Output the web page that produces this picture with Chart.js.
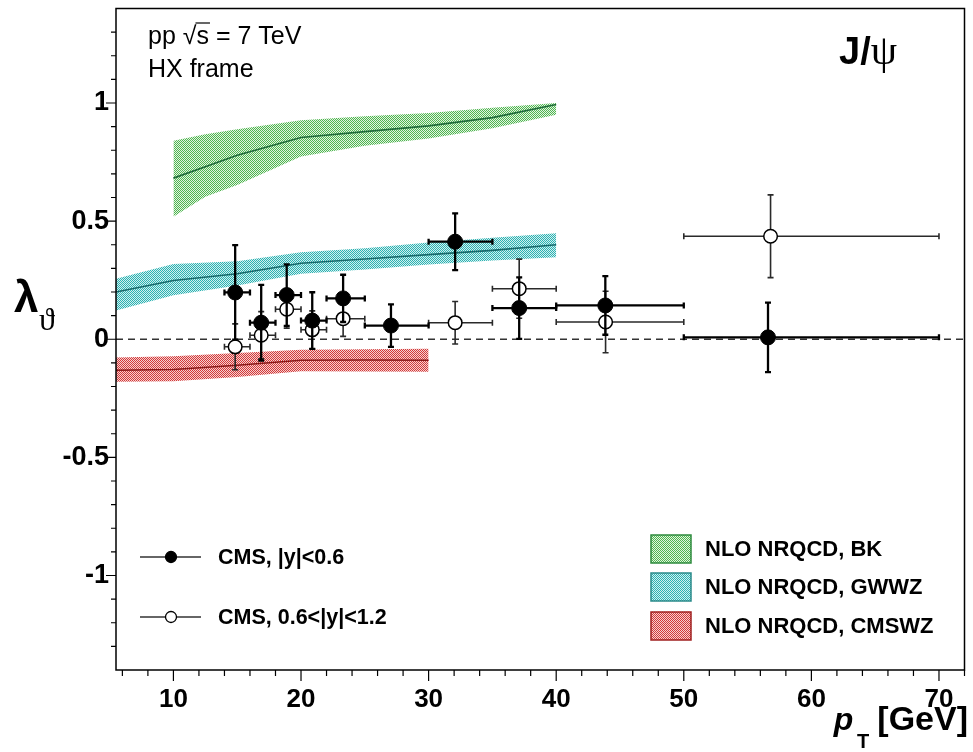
<!DOCTYPE html>
<html>
<head>
<meta charset="utf-8">
<script src="https://cdn.jsdelivr.net/npm/chart.js@4"></script>
<style>
  html, body { margin: 0; padding: 0; background: #fff; }
  #c { display: block; }
</style>
</head>
<body>
<canvas id="c" width="973" height="752"></canvas>
<script>
// ---------------- data ----------------
// CMS |y|<0.6 (filled)
const filledX    = [14.84, 16.88, 18.88, 20.88, 23.3, 27.05, 32.08, 37.1, 43.85, 56.6];
const filledY    = [0.198, 0.070, 0.187, 0.079, 0.173, 0.058, 0.413, 0.132, 0.143, 0.008];
const filledXLo  = [14, 16, 18, 20, 22, 25, 30, 35, 40, 50];
const filledXHi  = [16, 18, 20, 22, 25, 30, 35, 40, 50, 70];
const filledYErr = [0.20, 0.16, 0.13, 0.12, 0.10, 0.09, 0.12, 0.13, 0.124, 0.147];
// CMS 0.6<|y|<1.2 (open)
const openX    = [14.84, 16.88, 18.88, 20.88, 23.3, 32.08, 37.1, 43.87, 56.8];
const openY    = [-0.032, 0.017, 0.127, 0.040, 0.087, 0.070, 0.214, 0.073, 0.436];
const openXLo  = [14, 16, 18, 20, 22, 30, 35, 40, 50];
const openXHi  = [16, 18, 20, 22, 25, 35, 40, 50, 70];
const openYErr = [0.097, 0.10, 0.08, 0.08, 0.075, 0.09, 0.125, 0.13, 0.175];
// NLO NRQCD, BK
const bkX      = [10, 12.5, 15, 20, 25, 30, 35, 40];
const bkCenter = [0.682, 0.730, 0.779, 0.854, 0.879, 0.903, 0.938, 0.994];
const bkUpper  = [0.840, 0.868, 0.889, 0.927, 0.944, 0.958, 0.980, 1.000];
const bkLower  = [0.519, 0.603, 0.653, 0.774, 0.819, 0.850, 0.893, 0.950];
// NLO NRQCD, GWWZ
const gwX      = [5.5, 10, 15, 20, 25, 30, 35, 40];
const gwCenter = [0.200, 0.249, 0.277, 0.322, 0.340, 0.358, 0.376, 0.400];
const gwUpper  = [0.256, 0.319, 0.330, 0.368, 0.385, 0.410, 0.430, 0.449];
const gwLower  = [0.122, 0.186, 0.228, 0.277, 0.295, 0.316, 0.333, 0.347];
// NLO NRQCD, CMSWZ
const czX      = [5.5, 10, 15, 20, 25, 30];
const czCenter = [-0.131, -0.128, -0.110, -0.089, -0.088, -0.089];
const czUpper  = [-0.077, -0.072, -0.058, -0.044, -0.042, -0.040];
const czLower  = [-0.180, -0.178, -0.160, -0.135, -0.136, -0.138];
// axes
const xMin = 5.5, xMax = 72, yMin = -1.4, yMax = 1.4;
const xMajorLabels = [10, 20, 30, 40, 50, 60, 70];
const yMajorLabels = [-1, -0.5, 0, 0.5, 1];

// ---------------- helpers ----------------
const canvas = document.getElementById('c');
const ctx = canvas.getContext('2d');
function pts(xs, ys) { return xs.map((x, i) => ({ x: x, y: ys[i] })); }
function pat(c1, c2) {
  const p = document.createElement('canvas'); p.width = 2; p.height = 2;
  const g = p.getContext('2d');
  g.fillStyle = c2; g.fillRect(0, 0, 2, 2);
  g.fillStyle = c1; g.fillRect(0, 0, 1, 1); g.fillRect(1, 1, 1, 1);
  return ctx.createPattern(p, 'repeat');
}
const green = { pat: pat('#50b650', '#e2f3e2'), line: '#1f6b3a', edge: '#2e8b3e' };
const cyan  = { pat: pat('#2cb2b2', '#d2efef'), line: '#17696b', edge: '#2a8a8a' };
const red   = { pat: pat('#d23a3a', '#f6d0d0'), line: '#8a1818', edge: '#a02020' };

function band(xs, up, lo, ce, col) {
  return [
    { data: pts(xs, up), showLine: true, pointRadius: 0, borderWidth: 0, borderColor: 'transparent',
      backgroundColor: col.pat, fill: '+1', order: 20 },
    { data: pts(xs, lo), showLine: true, pointRadius: 0, borderWidth: 0, borderColor: 'transparent',
      fill: false, order: 20 },
    { data: pts(xs, ce), showLine: true, pointRadius: 0, borderWidth: 1.6, borderColor: col.line,
      fill: false, order: 19 }
  ];
}

function drawErr(chart, xs, ys, xlo, xhi, yerr, lw, color) {
  const sx = chart.scales.x, sy = chart.scales.y, c = chart.ctx;
  c.save();
  c.strokeStyle = color; c.lineWidth = lw; c.lineCap = 'butt';
  const cap = 3;
  for (let i = 0; i < xs.length; i++) {
    const px = sx.getPixelForValue(xs[i]), py = sy.getPixelForValue(ys[i]);
    const x0 = sx.getPixelForValue(xlo[i]), x1 = sx.getPixelForValue(xhi[i]);
    const y0 = sy.getPixelForValue(ys[i] + yerr[i]), y1 = sy.getPixelForValue(ys[i] - yerr[i]);
    c.beginPath();
    c.moveTo(x0, py); c.lineTo(x1, py);
    c.moveTo(px, y0); c.lineTo(px, y1);
    c.moveTo(x0, py - cap); c.lineTo(x0, py + cap);
    c.moveTo(x1, py - cap); c.lineTo(x1, py + cap);
    c.moveTo(px - cap, y0); c.lineTo(px + cap, y0);
    c.moveTo(px - cap, y1); c.lineTo(px + cap, y1);
    c.stroke();
  }
  c.restore();
}

const deco = {
  id: 'deco',
  beforeDatasetDraw(chart, args) {
    const ds = chart.data.datasets[args.index];
    if (ds.errKey === 'open') drawErr(chart, openX, openY, openXLo, openXHi, openYErr, 1.6, '#2a2a2a');
    if (ds.errKey === 'filled') drawErr(chart, filledX, filledY, filledXLo, filledXHi, filledYErr, 2.3, '#000');
  },
  afterDraw(chart) {
    const c = chart.ctx, a = chart.chartArea, sx = chart.scales.x, sy = chart.scales.y;
    c.save();
    // frame
    c.strokeStyle = '#000'; c.lineWidth = 1.5;
    c.strokeRect(a.left, a.top, a.right - a.left, a.bottom - a.top);
    // ticks
    c.lineWidth = 1.2;
    c.beginPath();
    sx.ticks.forEach(t => {
      const px = sx.getPixelForValue(t.value);
      const major = Math.abs(t.value % 10) < 1e-6;
      c.moveTo(px, a.bottom); c.lineTo(px, a.bottom + (major ? 11 : 6));
    });
    sy.ticks.forEach(t => {
      const py = sy.getPixelForValue(t.value);
      const major = Math.abs(Math.round(t.value * 10) % 5) === 0;
      c.moveTo(a.left, py); c.lineTo(a.left - (major ? 10 : 5), py);
    });
    c.stroke();

    c.fillStyle = '#000';
    c.textBaseline = 'alphabetic';
    // top-left text
    c.font = '25px "Liberation Sans", Arial, sans-serif';
    c.textAlign = 'left';
    const t1 = 'pp ', t3 = ' = 7 TeV';
    let x0 = 148, yb = 44;
    c.fillText(t1, x0, yb);
    let w1 = c.measureText(t1).width;
    c.fillText('\u221A', x0 + w1, yb);
    let wr = c.measureText('\u221A').width;
    c.fillText('s', x0 + w1 + wr, yb);
    let ws = c.measureText('s').width;
    c.lineWidth = 1.2;
    c.beginPath(); c.moveTo(x0 + w1 + wr - 1, yb - 21); c.lineTo(x0 + w1 + wr + ws + 1, yb - 21); c.stroke();
    c.fillText(t3, x0 + w1 + wr + ws, yb);
    c.fillText('HX frame', 148, 77);

    // J/psi
    c.font = 'bold 38px "Liberation Sans", Arial, sans-serif';
    c.fillText('J/', 839, 64);
    const wj = c.measureText('J/').width;
    c.font = '42px "Liberation Serif", "Times New Roman", serif';
    c.fillText('\u03C8', 839 + wj, 64);

    // y title
    c.font = 'bold 44px "Liberation Sans", Arial, sans-serif';
    c.fillText('\u03BB', 14, 312);
    c.font = '32px "Liberation Serif", "Times New Roman", serif';
    c.fillText('\u03D1', 39, 330);

    // x title
    c.textAlign = 'right';
    c.font = 'bold 34px "Liberation Sans", Arial, sans-serif';
    c.fillText('[GeV]', 968, 730);
    const wg = c.measureText('[GeV]').width;
    c.font = 'bold 20px "Liberation Sans", Arial, sans-serif';
    c.fillText('T', 968 - wg - 8, 748);
    c.font = 'italic bold 32px "Liberation Sans", Arial, sans-serif';
    c.fillText('p', 968 - wg - 24, 730);

    // legend left
    c.textAlign = 'left'; c.textBaseline = 'middle';
    c.font = 'bold 21.5px "Liberation Sans", Arial, sans-serif';
    const legL = [{ y: 557, fill: true, label: 'CMS, |y|<0.6' }, { y: 617, fill: false, label: 'CMS, 0.6<|y|<1.2' }];
    legL.forEach(e => {
      c.strokeStyle = '#333'; c.lineWidth = 1.6;
      c.beginPath(); c.moveTo(140, e.y); c.lineTo(201, e.y); c.stroke();
      c.beginPath(); c.arc(171, e.y, 5.5, 0, Math.PI * 2);
      c.fillStyle = e.fill ? '#000' : '#fff'; c.fill();
      c.strokeStyle = '#000'; c.lineWidth = 1.3; c.stroke();
      c.fillStyle = '#000';
      c.fillText(e.label, 218, e.y + 1);
    });
    // legend right
    c.font = 'bold 22px "Liberation Sans", Arial, sans-serif';
    const legR = [{ y: 549, col: green, label: 'NLO NRQCD, BK' },
                  { y: 587, col: cyan, label: 'NLO NRQCD, GWWZ' },
                  { y: 626, col: red, label: 'NLO NRQCD, CMSWZ' }];
    legR.forEach(e => {
      c.fillStyle = e.col.pat;
      c.fillRect(651, e.y - 14, 40, 28);
      c.strokeStyle = e.col.edge; c.lineWidth = 1.5;
      c.strokeRect(651, e.y - 14, 40, 28);
      c.fillStyle = '#000';
      c.fillText(e.label, 705, e.y + 1);
    });
    c.restore();
  }
};

const datasets = [
  { errKey: 'filled', data: pts(filledX, filledY), pointRadius: 7.5, pointBackgroundColor: '#000',
    pointBorderColor: '#000', pointBorderWidth: 1, showLine: false, order: 1 },
  { errKey: 'open', data: pts(openX, openY), pointRadius: 6.8, pointBackgroundColor: '#fff',
    pointBorderColor: '#000', pointBorderWidth: 1.5, showLine: false, order: 2 },
  { data: [{ x: xMin, y: 0 }, { x: xMax, y: 0 }], showLine: true, pointRadius: 0,
    borderColor: '#333', borderWidth: 1.5, borderDash: [7, 5], fill: false, order: 3 },
  ...band(bkX, bkUpper, bkLower, bkCenter, green),
  ...band(gwX, gwUpper, gwLower, gwCenter, cyan),
  ...band(czX, czUpper, czLower, czCenter, red)
];

function zeroPad(s) { s.paddingTop = 0; s.paddingBottom = 0; s.paddingLeft = 0; s.paddingRight = 0; }

new Chart(ctx, {
  type: 'scatter',
  data: { datasets: datasets },
  plugins: [deco],
  options: {
    responsive: false, animation: false, devicePixelRatio: 1,
    layout: { padding: { top: 8, right: 4, left: 0, bottom: 0 } },
    plugins: { legend: { display: false }, tooltip: { enabled: false } },
    elements: { line: { tension: 0 } },
    scales: {
      x: {
        type: 'linear', min: xMin, max: xMax,
        afterBuildTicks: s => { const t = []; for (let k = 6; k <= 72; k += 2) t.push({ value: k }); s.ticks = t; },
        afterFit: s => { s.height = 82; zeroPad(s); },
        grid: { display: false, drawTicks: false },
        border: { display: false },
        ticks: {
          autoSkip: false, maxRotation: 0, padding: 14, color: '#000',
          font: { family: '"Liberation Sans", Arial, sans-serif', size: 26, weight: 'bold' },
          callback: v => xMajorLabels.includes(v) ? String(v) : ''
        }
      },
      y: {
        type: 'linear', min: yMin, max: yMax,
        afterBuildTicks: s => { const t = []; for (let k = -13; k <= 13; k++) t.push({ value: k / 10 }); s.ticks = t; },
        afterFit: s => { s.width = 116; zeroPad(s); },
        grid: { display: false, drawTicks: false },
        border: { display: false },
        ticks: {
          autoSkip: false, padding: 7, color: '#000',
          font: { family: '"Liberation Sans", Arial, sans-serif', size: 27, weight: 'bold' },
          callback: v => { const m = yMajorLabels.find(q => Math.abs(q - v) < 1e-6); return m === undefined ? '' : String(m); }
        }
      }
    }
  }
});
</script>
</body>
</html>
